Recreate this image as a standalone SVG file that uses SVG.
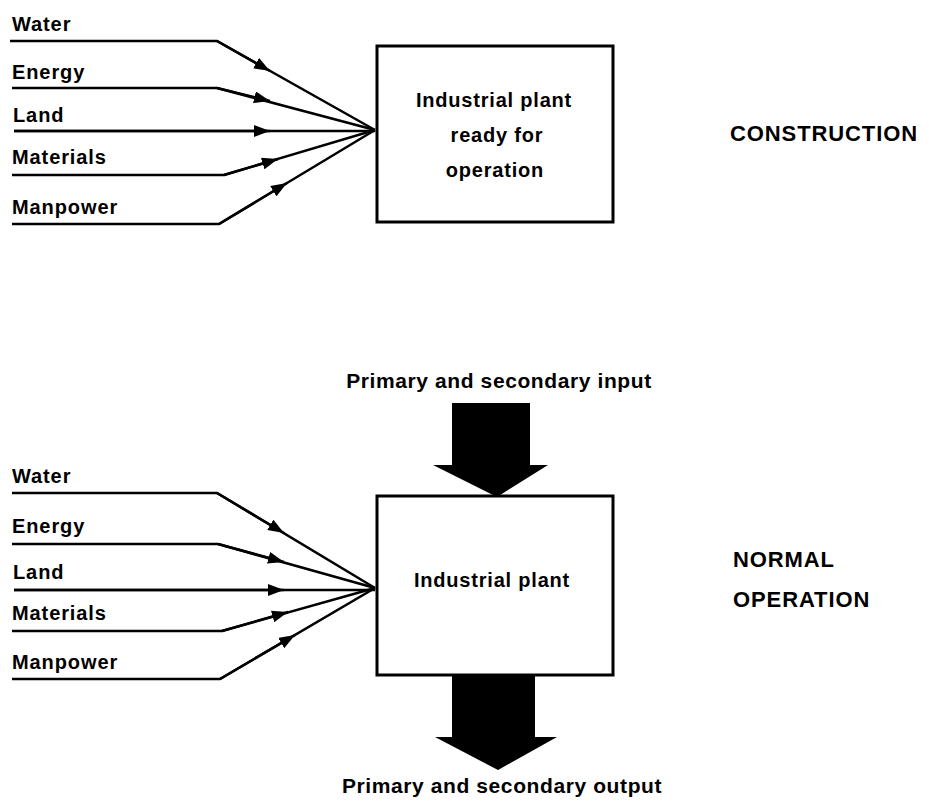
<svg xmlns="http://www.w3.org/2000/svg" width="929" height="804" viewBox="0 0 929 804">
  <style>
    text { font-family: "Liberation Sans", Arial, sans-serif; font-weight: bold; fill: #000; }
    .lbl { font-size: 20px; letter-spacing: 0.9px; }
    .box-t { font-size: 20px; letter-spacing: 0.8px; text-anchor: middle; }
    .mode { font-size: 22px; letter-spacing: 0.9px; }
    .io { font-size: 21px; letter-spacing: 0.6px; text-anchor: middle; }
    .line { fill: none; stroke: #000; stroke-width: 2.5; stroke-linejoin: miter; }
    .box { fill: #fff; stroke: #000; stroke-width: 3; }
    .big { fill: #000; }
  </style>
  <defs>
    <marker id="ah" viewBox="0 0 16 12" refX="16" refY="6" markerWidth="16" markerHeight="12" markerUnits="userSpaceOnUse" orient="auto">
      <path d="M0 0 L16 6 L0 12 Z" fill="#000"/>
    </marker>
  </defs>

  <!-- Construction phase: input lines -->
  <g id="connectors-construction">
    <path class="line" d="M10 41 H217 L375 130"/>
    <path class="line" d="M217 41 L270 71" marker-end="url(#ah)"/>
    <path class="line" d="M12 88 H217 L375 130"/>
    <path class="line" d="M217 88 L270 101" marker-end="url(#ah)"/>
    <path class="line" d="M14 131 H375"/>
    <path class="line" d="M14 131 H270" marker-end="url(#ah)"/>
    <path class="line" d="M12 175 H224 L375 130"/>
    <path class="line" d="M224 175 L278 159" marker-end="url(#ah)"/>
    <path class="line" d="M12 224 H219 L375 130"/>
    <path class="line" d="M219 224 L287 183" marker-end="url(#ah)"/>
  </g>

  <g id="labels-construction">
    <text class="lbl" x="12" y="31">Water</text>
    <text class="lbl" x="12" y="79">Energy</text>
    <text class="lbl" x="13" y="122">Land</text>
    <text class="lbl" x="12" y="164">Materials</text>
    <text class="lbl" x="12" y="214">Manpower</text>
  </g>

  <g id="plant-construction">
    <rect class="box" x="377" y="46" width="236" height="176"/>
    <text class="box-t" x="494" y="107">Industrial plant</text>
    <text class="box-t" x="497" y="142">ready for</text>
    <text class="box-t" x="495" y="177">operation</text>
  </g>

  <g id="mode-construction">
    <text class="mode" x="730" y="141">CONSTRUCTION</text>
  </g>

  <!-- Normal operation phase -->
  <g id="input-primary">
    <text class="io" x="499" y="388">Primary and secondary input</text>
    <path class="big" d="M452 403 H530 V465 H548 L497 497 L433 465 H452 Z"/>
  </g>

  <g id="connectors-operation">
    <path class="line" d="M12 493 H217 L375 588"/>
    <path class="line" d="M217 493 L284 533" marker-end="url(#ah)"/>
    <path class="line" d="M12 544 H218 L375 588"/>
    <path class="line" d="M218 544 L284 562" marker-end="url(#ah)"/>
    <path class="line" d="M14 590 H375"/>
    <path class="line" d="M14 590 H284" marker-end="url(#ah)"/>
    <path class="line" d="M12 631 H222 L375 588"/>
    <path class="line" d="M222 631 L288 612" marker-end="url(#ah)"/>
    <path class="line" d="M12 679 H220 L375 588"/>
    <path class="line" d="M220 679 L295 635" marker-end="url(#ah)"/>
  </g>

  <g id="labels-operation">
    <text class="lbl" x="12" y="483">Water</text>
    <text class="lbl" x="12" y="533">Energy</text>
    <text class="lbl" x="13" y="579">Land</text>
    <text class="lbl" x="12" y="620">Materials</text>
    <text class="lbl" x="12" y="669">Manpower</text>
  </g>

  <g id="plant-operation">
    <rect class="box" x="377" y="496" width="236" height="179"/>
    <text class="box-t" x="492" y="587">Industrial plant</text>
  </g>

  <g id="output-primary">
    <path class="big" d="M452 674 H535 V737 H557 L498 770 L435 737 H452 Z"/>
    <text class="io" x="502" y="793">Primary and secondary output</text>
  </g>

  <g id="mode-operation">
    <text class="mode" x="733" y="567">NORMAL</text>
    <text class="mode" x="733" y="607">OPERATION</text>
  </g>
</svg>
